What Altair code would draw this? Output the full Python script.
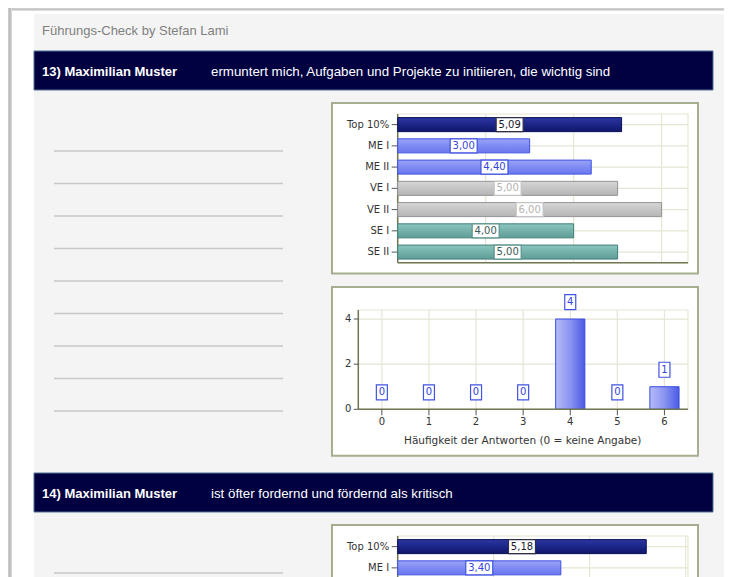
import altair as alt
import pandas as pd

# ---------------- data ----------------
TITLE = "Führungs-Check by Stefan Lami"
HEAD_NAMES = ["13) Maximilian Muster", "14) Maximilian Muster"]
HEAD_QUESTIONS = [
    "ermuntert mich, Aufgaben und Projekte zu initiieren, die wichtig sind",
    "ist öfter fordernd und fördernd als kritisch",
]
GROUPS = ["Top 10%", "ME I", "ME II", "VE I", "VE II", "SE I", "SE II"]
Q13_MEANS = [5.09, 3.00, 4.40, 5.00, 6.00, 4.00, 5.00]
Q14_MEANS = [5.18, 3.40]          # only these two rows are visible in the picture
BAR_GRID = [2, 4, 6]
ANSWERS = [0, 1, 2, 3, 4, 5, 6]
Q13_COUNTS = [0, 0, 0, 0, 4, 0, 1]
COUNT_TICKS = [0, 2, 4]
HIST_TITLE = "Häufigkeit der Antworten (0 = keine Angabe)"
NOTE_LINES = list(range(9))

# ---------------- layout / style ----------------
W, H = 716, 569
OFF = 8


def P(v):
    return v - OFF


HF = "Liberation Sans"
CF = "DejaVu Sans"
GRID = "#e6e6d3"
AXC = "#6f7852"
BOXC = "#a5ae8e"
ONE = pd.DataFrame({"k": [0]})

STYLE = {
    "Top": dict(stops=["#2c37a2", "#1c2588", "#10176a"], stroke="#0b1158",
                lstroke="#2e2e48", ltext="#1a1a2e"),
    "ME": dict(stops=["#9aa4f9", "#7f8bf3", "#6a76ee"], stroke="#4053e2",
               lstroke="#4053e2", ltext="#3345dc"),
    "VE": dict(stops=["#d6d6d6", "#c5c5c5", "#b6b6b6"], stroke="#939393",
               lstroke="#c2c2c2", ltext="#b2b2b2"),
    "SE": dict(stops=["#8cc6c0", "#74b1ab", "#5e9c96"], stroke="#42807a",
               lstroke="#5c948e", ltext="#3c5a57"),
}


def grad(colors, horizontal=False):
    n = len(colors)
    stops = [alt.GradientStop(color=c, offset=i / (n - 1)) for i, c in enumerate(colors)]
    if horizontal:
        return alt.LinearGradient(gradient="linear", stops=stops, x1=0, x2=1, y1=0, y2=0)
    return alt.LinearGradient(gradient="linear", stops=stops, x1=0, x2=0, y1=0, y2=1)


def vrect(x1, x2, y1, y2, **kw):
    return alt.Chart(ONE).mark_rect(**kw).encode(
        x=alt.value(P(x1)), x2=alt.value(P(x2)),
        y=alt.value(P(y1)), y2=alt.value(P(y2)))


def vrule(x1, x2, y1, y2, **kw):
    return alt.Chart(ONE).mark_rule(**kw).encode(
        x=alt.value(P(x1)), x2=alt.value(P(x2)),
        y=alt.value(P(y1)), y2=alt.value(P(y2)))


def vtext(txt, x, y, **kw):
    return alt.Chart(pd.DataFrame({"t": [txt]})).mark_text(**kw).encode(
        x=alt.value(P(x)), y=alt.value(P(y)), text="t:N")


def box_shape(w, h):
    hh = h / w
    return f"M-1,-{hh:.4f}L1,-{hh:.4f}L1,{hh:.4f}L-1,{hh:.4f}Z", w * w


def bar_panel(means, box_top, xmax):
    pl, pr = 397.7, 688.0
    pt = box_top + 11
    pb = pt + 148.7
    xs = alt.Scale(domain=[0, xmax], range=[P(pl), P(pr)], nice=False, zero=True)
    ys = alt.Scale(domain=GROUPS, range=[P(pt), P(pb)], paddingInner=0.34, paddingOuter=0.17)

    def X(f):
        return alt.X(f, scale=xs, axis=None)

    def Y(f):
        return alt.Y(f, scale=ys, axis=None)

    df = pd.DataFrame({"cat": GROUPS[:len(means)], "v": means})
    df["mid"] = df["v"] / 2
    df["lbl"] = df["v"].map(lambda v: f"{v:.2f}".replace(".", ","))
    df["grp"] = df["cat"].str.split().str[0]
    cats = pd.DataFrame({"cat": GROUPS})
    shown = pd.DataFrame({"cat": GROUPS[:len(means)]})
    grid = pd.DataFrame({"g": BAR_GRID})
    shape, size = box_shape(27, 14)

    layers = [
        vrect(332, 698, box_top, box_top + 170.5, fill="white", stroke=BOXC, strokeWidth=2),
        alt.Chart(grid).mark_rule(color=GRID, strokeWidth=1.2).encode(
            x=X("g:Q"), y=alt.value(P(pt)), y2=alt.value(P(pb))),
        alt.Chart(cats).mark_rule(color=GRID, strokeWidth=1.2).encode(
            y=Y("cat:N"), x=alt.value(P(pl)), x2=alt.value(P(pr))),
        vrect(pl, pr, pt, pb, fillOpacity=0, stroke=GRID, strokeWidth=1.2),
        vrule(pl, pl, pt, pb, color=AXC, strokeWidth=1.5),
        vrule(pl, pr, pb, pb, color=AXC, strokeWidth=1.5),
        alt.Chart(cats).mark_rule(color="#555555").encode(
            y=Y("cat:N"), x=alt.value(P(pl - 6)), x2=alt.value(P(pl))),
        alt.Chart(shown).mark_text(font=CF, fontSize=10, color="#333333", align="right",
                                   baseline="middle").encode(
            y=Y("cat:N"), x=alt.value(P(pl - 8.5)), text="cat:N"),
    ]
    for g, st in STYLE.items():
        sub = df[df["grp"] == g]
        if len(sub) == 0:
            continue
        layers.append(alt.Chart(sub).mark_bar(fill=grad(st["stops"]), stroke=st["stroke"],
                                              strokeWidth=1).encode(x=X("v:Q"), y=Y("cat:N")))
        layers.append(alt.Chart(sub).mark_point(shape=shape, size=size, filled=True, fill="white",
                                                stroke=st["lstroke"], strokeWidth=1.2,
                                                opacity=1).encode(x=X("mid:Q"), y=Y("cat:N")))
        layers.append(alt.Chart(sub).mark_text(font=CF, fontSize=10, color=st["ltext"],
                                               baseline="middle").encode(
            x=X("mid:Q"), y=Y("cat:N"), text="lbl:N"))
    return alt.layer(*layers)


def hist_panel(counts, box_top):
    pl, pr = 358.3, 688.0
    pt = box_top + 23
    pb = box_top + 122.3
    xs = alt.Scale(domain=ANSWERS, range=[P(pl), P(pr)], paddingInner=0.38, paddingOuter=0.19)
    ys = alt.Scale(domain=[0, 4.4], range=[P(pb), P(pt)], nice=False, zero=True)

    def X(f):
        return alt.X(f, scale=xs, axis=None)

    def Y(f):
        return alt.Y(f, scale=ys, axis=None)

    df = pd.DataFrame({"a": ANSWERS, "n": counts})
    df["lbl"] = df["n"].astype(str)
    df["albl"] = df["a"].astype(str)
    ticks = pd.DataFrame({"t": COUNT_TICKS})
    ticks["lbl"] = ticks["t"].astype(str)
    shape, size = box_shape(11, 15)
    layers = [
        vrect(332, 698, box_top, box_top + 168.7, fill="white", stroke=BOXC, strokeWidth=2),
        alt.Chart(df).mark_rule(color=GRID, strokeWidth=1.2).encode(
            x=X("a:O"), y=alt.value(P(pt)), y2=alt.value(P(pb))),
        alt.Chart(ticks).mark_rule(color=GRID, strokeWidth=1.2).encode(
            y=Y("t:Q"), x=alt.value(P(pl)), x2=alt.value(P(pr))),
        vrect(pl, pr, pt, pb, fillOpacity=0, stroke=GRID, strokeWidth=1.2),
        alt.Chart(df[df["n"] > 0]).mark_bar(
            fill=grad(["#b6bbf6", "#8a94f1", "#4b5ae6"], horizontal=True),
            stroke="#3a4ce0", strokeWidth=1).encode(x=X("a:O"), y=Y("n:Q")),
        vrule(pl, pl, pt, pb, color=AXC, strokeWidth=1.5),
        vrule(pl, pr, pb, pb, color=AXC, strokeWidth=1.5),
        alt.Chart(ticks).mark_rule(color="#555555").encode(
            y=Y("t:Q"), x=alt.value(P(pl - 4.5)), x2=alt.value(P(pl))),
        alt.Chart(ticks).mark_text(font=CF, fontSize=10, color="#333333", align="right",
                                   baseline="middle").encode(
            y=Y("t:Q"), x=alt.value(P(pl - 7)), text="lbl:N"),
        alt.Chart(df).mark_rule(color="#555555").encode(
            x=X("a:O"), y=alt.value(P(pb)), y2=alt.value(P(pb + 6))),
        alt.Chart(df).mark_text(font=CF, fontSize=10, color="#333333",
                                baseline="middle").encode(
            x=X("a:O"), y=alt.value(P(pb + 12.5)), text="albl:N"),
        vtext(HIST_TITLE, 522.7, box_top + 153.5, font=CF, fontSize=10.5, color="#333333",
              baseline="middle"),
        alt.Chart(df).mark_point(shape=shape, size=size, filled=True, fill="white",
                                 stroke="#4053e2", strokeWidth=1.2, opacity=1,
                                 yOffset=-17).encode(x=X("a:O"), y=Y("n:Q")),
        alt.Chart(df).mark_text(font=CF, fontSize=10, color="#3345dc", baseline="middle",
                                yOffset=-17).encode(x=X("a:O"), y=Y("n:Q"), text="lbl:N"),
    ]
    return alt.layer(*layers)


def note_lines(first_y):
    return alt.Chart(pd.DataFrame({"n": NOTE_LINES})).mark_rule(
        color="#c8c8c8", strokeWidth=1.5).encode(
        y=alt.Y("n:Q", scale=alt.Scale(domain=[0, 8], range=[P(first_y), P(first_y + 260)]),
                axis=None),
        x=alt.value(P(54)), x2=alt.value(P(283)))


SEC = 422
layers = [
    # paper shadow
    vrect(8, 740, 8, 10.5, fill=grad(["#d2d2d2", "#bdbdbd"])),
    vrect(8, 12, 8, 600, fill=grad(["#cfcfcf", "#b9b9b9", "#e2e2e2"], horizontal=True)),
    # content area
    vrect(34, 724, 14, 600, fill="#f4f4f4"),
    vtext(TITLE, 42, 35, font=HF, fontSize=13, color="#808080", align="left",
          baseline="alphabetic"),
]
for i in range(2):
    top = 51 + i * SEC
    layers.append(vrect(34, 713, top, top + 39, fill="#000040", stroke="#4f7393", strokeWidth=1))
    layers.append(vtext(HEAD_NAMES[i], 42, top + 24.5, font=HF, fontSize=13, fontWeight="bold",
                        color="white", align="left", baseline="alphabetic"))
    layers.append(vtext(HEAD_QUESTIONS[i], 211, top + 24.5, font=HF, fontSize=13.3,
                        color="white", align="left", baseline="alphabetic"))
    layers.append(note_lines(151 + i * SEC))

layers.append(bar_panel(Q13_MEANS, 103, 6.6))
layers.append(hist_panel(Q13_COUNTS, 287))
layers.append(bar_panel(Q14_MEANS, 103 + SEC, 6.05))

chart = alt.layer(*layers).resolve_scale(x="independent", y="independent").properties(
    width=W, height=H, autosize=alt.AutoSizeParams(type="none"), padding=0,
    background="white",
).configure_view(stroke=None)

chart.save("out.html", embed_options={"renderer": "svg", "actions": False})
